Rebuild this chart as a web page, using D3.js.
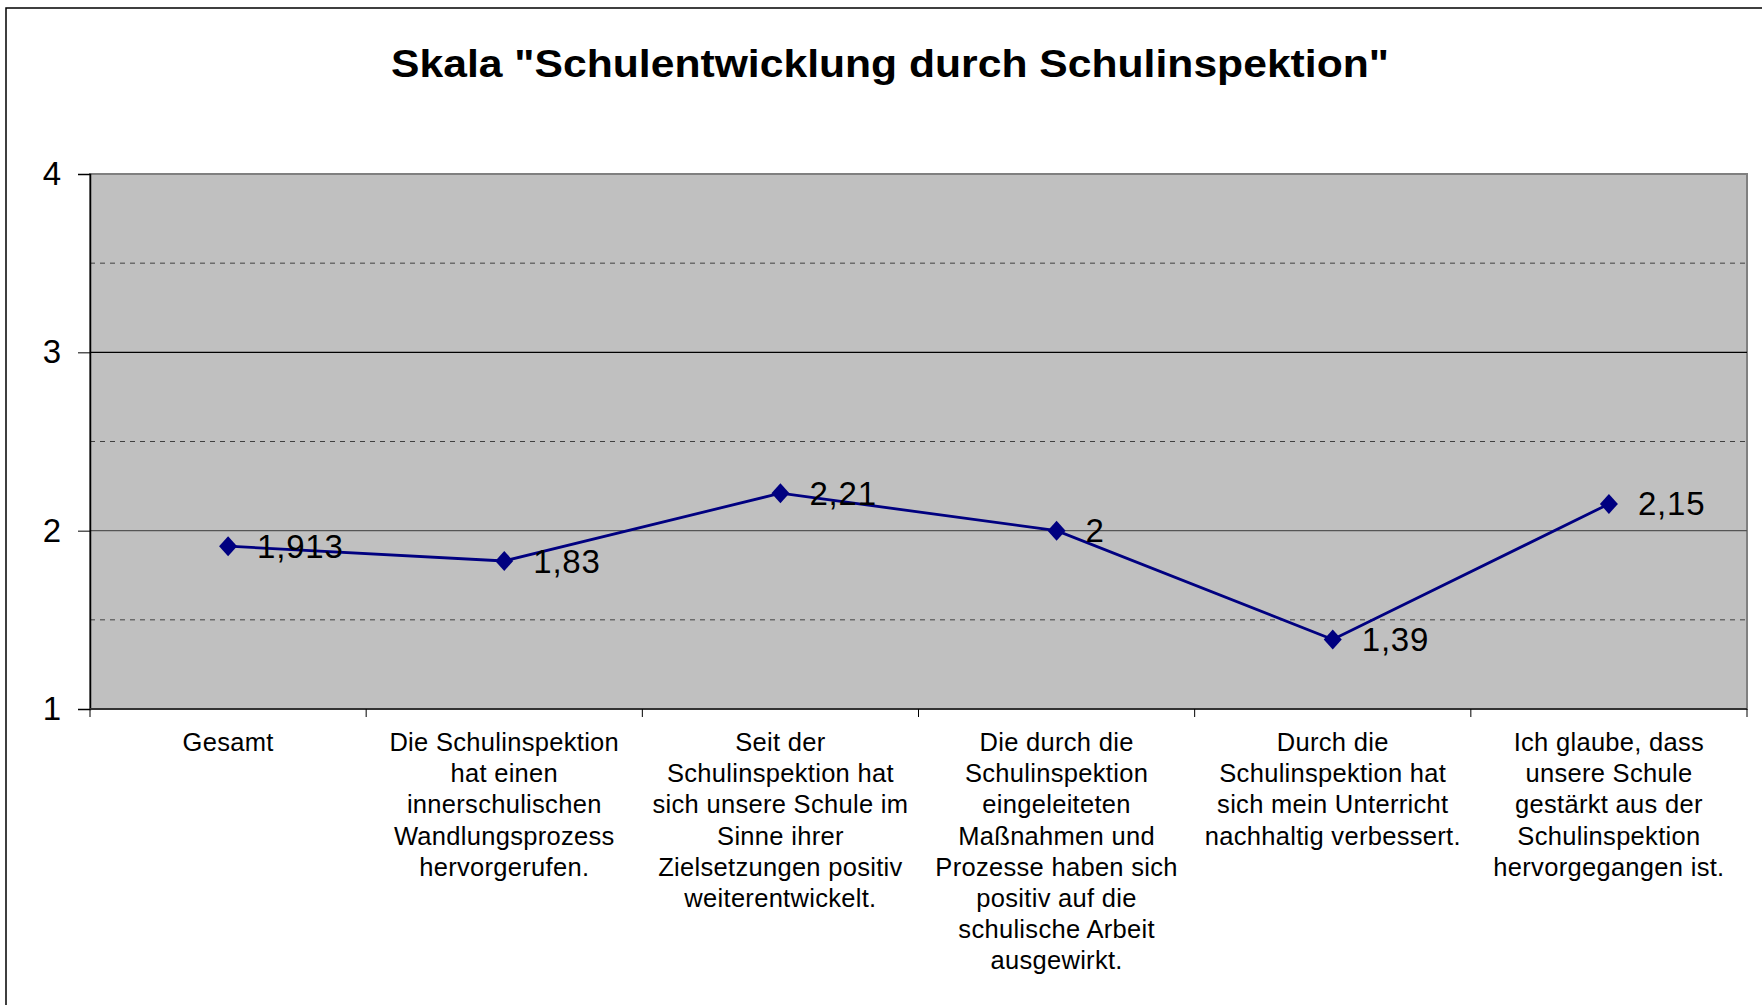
<!DOCTYPE html>
<html>
<head>
<meta charset="utf-8">
<script src="https://cdn.jsdelivr.net/npm/d3@7"></script>
<style>
  html, body { margin: 0; padding: 0; background: #fff; }
  svg { display: block; font-family: "Liberation Sans", Arial, sans-serif; }
</style>
</head>
<body>
<svg id="chart" width="1762" height="1005"></svg>
<script>
'use strict';

var title = 'Skala "Schulentwicklung durch Schulinspektion"';

// category labels, split the way the original wraps them
var categories = [
  ['Gesamt'],
  ['Die Schulinspektion', 'hat einen', 'innerschulischen', 'Wandlungsprozess', 'hervorgerufen.'],
  ['Seit der', 'Schulinspektion hat', 'sich unsere Schule im', 'Sinne ihrer', 'Zielsetzungen positiv', 'weiterentwickelt.'],
  ['Die durch die', 'Schulinspektion', 'eingeleiteten', 'Maßnahmen und', 'Prozesse haben sich', 'positiv auf die', 'schulische Arbeit', 'ausgewirkt.'],
  ['Durch die', 'Schulinspektion hat', 'sich mein Unterricht', 'nachhaltig verbessert.'],
  ['Ich glaube, dass', 'unsere Schule', 'gestärkt aus der', 'Schulinspektion', 'hervorgegangen ist.']
];

var values = [1.913, 1.83, 2.21, 2, 1.39, 2.15];
var valueLabels = ['1,913', '1,83', '2,21', '2', '1,39', '2,15'];

var yTicks = [1, 2, 3, 4];
var yMinorTicks = [1.5, 2.5, 3.5];

var svg = d3.select('#chart'),
    plot = { left: 90, right: 1747, top: 174, bottom: 709 };

// outer chart frame
svg.append('rect')
  .attr('x', 6).attr('y', 8)
  .attr('width', 1800).attr('height', 1100)
  .attr('fill', '#fff')
  .attr('stroke', '#000')
  .attr('stroke-width', 1.5);

svg.append('text')
  .attr('x', 890).attr('y', 77)
  .attr('text-anchor', 'middle')
  .attr('font-size', 38)
  .attr('font-weight', 'bold')
  .attr('textLength', 998)
  .attr('lengthAdjust', 'spacingAndGlyphs')
  .text(title);

var x = d3.scaleBand()
  .domain(d3.range(categories.length))
  .range([plot.left, plot.right]);

var y = d3.scaleLinear()
  .domain([1, 4])
  .range([plot.bottom, plot.top]);

// plot background
svg.append('rect')
  .attr('x', plot.left).attr('y', plot.top)
  .attr('width', plot.right - plot.left)
  .attr('height', plot.bottom - plot.top)
  .attr('fill', '#c0c0c0')
  .attr('stroke', '#808080')
  .attr('stroke-width', 2);

// minor (dashed) gridlines
svg.append('g').selectAll('line')
  .data(yMinorTicks)
  .join('line')
  .attr('x1', plot.left).attr('x2', plot.right)
  .attr('y1', function(d) { return y(d); })
  .attr('y2', function(d) { return y(d); })
  .attr('stroke', '#404040')
  .attr('stroke-width', 1)
  .attr('stroke-dasharray', '5,5');

// major gridlines
svg.append('g').selectAll('line')
  .data(yTicks.filter(function(d) { return d > 1 && d < 4; }))
  .join('line')
  .attr('x1', plot.left).attr('x2', plot.right)
  .attr('y1', function(d) { return y(d); })
  .attr('y2', function(d) { return y(d); })
  .attr('stroke', function(d) { return d === 3 ? '#000' : '#555'; })
  .attr('stroke-width', 1.2);

// y axis
var yAxis = svg.append('g')
  .attr('transform', 'translate(' + plot.left + ',0)')
  .call(d3.axisLeft(y).tickValues(yTicks).tickSize(12).tickPadding(17).tickFormat(d3.format('d')));
yAxis.select('.domain').attr('stroke', '#000').attr('stroke-width', 1.5);
yAxis.selectAll('.tick line').attr('stroke', '#000');
yAxis.selectAll('.tick text')
  .attr('font-size', 33)
  .attr('fill', '#000')
  .attr('font-family', '"Liberation Sans", Arial, sans-serif');

// x axis with ticks at category boundaries
var xAxis = svg.append('g')
  .attr('transform', 'translate(0,' + plot.bottom + ')');
xAxis.append('line')
  .attr('x1', plot.left).attr('x2', plot.right)
  .attr('stroke', '#333').attr('stroke-width', 2);
xAxis.selectAll('line.tk')
  .data(d3.range(categories.length + 1))
  .join('line')
  .attr('class', 'tk')
  .attr('x1', function(i) { return i < categories.length ? x(i) : plot.right; })
  .attr('x2', function(i) { return i < categories.length ? x(i) : plot.right; })
  .attr('y1', 0).attr('y2', 8)
  .attr('stroke', '#000');

// category labels
var catText = svg.append('g').selectAll('text')
  .data(categories)
  .join('text')
  .attr('text-anchor', 'middle')
  .attr('font-size', 25.5)
  .attr('letter-spacing', 0.3)
  .attr('fill', '#000');
catText.selectAll('tspan')
  .data(function(lines, i) { return lines.map(function(l) { return { t: l, i: i }; }); })
  .join('tspan')
  .attr('x', function(d) { return x(d.i) + x.bandwidth() / 2; })
  .attr('y', function(d, j) { return 751 + j * 31.2; })
  .text(function(d) { return d.t; });

// series line
var cx = function(d, i) { return x(i) + x.bandwidth() / 2; };
svg.append('path')
  .datum(values)
  .attr('fill', 'none')
  .attr('stroke', '#000080')
  .attr('stroke-width', 2.8)
  .attr('d', d3.line().x(cx).y(function(d) { return y(d); }));

// diamond markers
svg.append('g').selectAll('path')
  .data(values)
  .join('path')
  .attr('transform', function(d, i) { return 'translate(' + cx(d, i) + ',' + y(d) + ')'; })
  .attr('d', 'M0,-10L9,0L0,10L-9,0Z')
  .attr('fill', '#000080');

// data labels
svg.append('g').selectAll('text')
  .data(values)
  .join('text')
  .attr('x', function(d, i) { return cx(d, i) + 29; })
  .attr('y', function(d) { return y(d); })
  .attr('dy', '0.35em')
  .attr('font-size', 33)
  .attr('letter-spacing', 0.8)
  .attr('fill', '#000')
  .text(function(d, i) { return valueLabels[i]; });
</script>
</body>
</html>
